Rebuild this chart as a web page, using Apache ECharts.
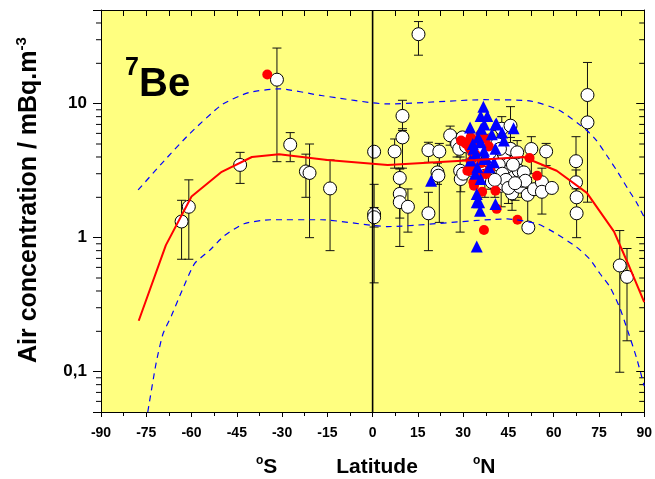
<!DOCTYPE html>
<html>
<head>
<meta charset="utf-8">
<script src="https://cdn.jsdelivr.net/npm/echarts@6/dist/echarts.min.js"></script>
<style>
  html, body { margin: 0; padding: 0; background: #fff; }
  #chart { width: 655px; height: 479px; }
</style>
</head>
<body>
<div id="chart"></div>
<script>
// open circles: latitude, concentration, error bar low / high (null = no bar)
var circLat = [-63.3, -60.9, -43.9, -31.7, -27.3, -22.1, -20.9, -14.1, 0.5, 0.5, 0.5,
  7.3, 9.9, 9.9, 9.0, 9.0, 9.0, 11.7, 15.2, 18.5, 18.5, 21.5, 21.8, 22.1, 25.7, 28.0,
  28.7, 29.0, 29.2, 30.0, 31.0, 33.0, 35.5, 36.0, 37.2, 38.0, 38.5, 39.1, 39.5, 40.2,
  40.8, 41.3, 41.3, 42.0, 42.4, 42.6, 42.8, 43.5, 43.5, 44.0, 44.8, 45.7, 45.7, 45.7,
  46.2, 46.8, 47.5, 47.9, 48.4, 48.7, 49.5, 50.1, 50.6, 51.4, 51.6, 52.6, 53.5, 56.1,
  56.1, 57.5, 59.4, 67.4, 67.4, 67.6, 67.6, 71.2, 71.2, 81.9, 84.3,
  39.5, 41.8, 43.0, 44.2, 45.0, 46.5, 47.2, 40.5, 38.8, 42.2, 29.8];
var circVal = [1.32, 1.70, 3.49, 15.1, 4.94, 3.12, 3.04, 2.33, 4.38, 1.50, 1.42,
  4.4, 8.1, 5.6, 2.79, 2.12, 1.84, 1.70, 33, 4.5, 1.52, 3.07, 2.9, 4.4, 5.8, 5.0,
  4.6, 3.16, 2.74, 3.0, 4.8, 3.2, 3.4, 4.6, 2.9, 3.76, 5.3, 2.98, 2.6, 3.76,
  3.3, 5.0, 2.98, 4.0, 3.16, 2.44, 6.5, 4.2, 2.51, 2.9, 3.5, 6.85, 4.6, 3.25,
  2.14, 2.82, 3.8, 4.33, 3.16, 2.4, 2.66, 3.07, 2.66, 2.09, 1.19, 4.59, 2.3, 2.59,
  2.2, 4.4, 2.35, 3.72, 2.59, 2.0, 1.52, 11.6, 7.25, 0.62, 0.51,
  3.9, 3.5, 3.0, 2.7, 2.35, 3.5, 2.55, 2.7, 4.3, 4.6, 5.6];
var circLo = [0.69, 0.69, 2.54, 3.69, 3.69, 2.0, 1.0, 0.80, 4.28, 0.46, 1.2,
  3.3, 6.3, 3.3, 1.9, 0.86, 1.4, 1.1, 23, 3.65, 0.80, 2.5, null, 1.3, 4.9, 4.0,
  null, 1.1, 2.2, null, 3.8, null, null, 3.7, 2.0, null, null, 2.3, null, 3.0,
  null, 4.0, 2.3, null, null, 1.7, 5.2, null, null, null, 2.5, 5.0, 3.6, 2.4,
  1.6, null, null, 3.5, null, null, 2.0, null, null, 1.13, 1.1, 3.0, null, 1.5,
  null, 3.45, null, 2.31, 2.0, 1.0, null, null, 1.84, 0.099, 0.17,
  3.1, 2.7, 2.3, null, 1.8, null, 1.9, 2.0, null, 3.6, null];
var circHi = [1.9, 2.7, 4.33, 26, 6.08, 4.2, 5.0, 3.8, 4.48, 2.5, 1.68,
  5.45, 10.6, 6.5, 3.3, 3.25, 2.3, 2.31, 41, 5.15, 2.18, 3.6, null, 5.05, 6.8, 6.0,
  null, 4.0, 3.3, null, 6.0, null, null, 5.7, 3.6, null, null, 3.7, null, 4.6,
  null, 6.3, 3.8, null, null, 3.2, 8.0, null, null, null, 4.5, 9.5, 5.6, 4.1,
  2.7, null, null, 5.3, null, null, 3.3, null, null, 2.8, 1.28, 5.67, null, 3.3,
  null, 5.05, null, 5.67, 3.2, 2.6, null, null, 20.3, 1.13, 0.83,
  4.8, 4.4, 3.9, null, 3.0, null, 3.3, 3.5, null, 5.6, null];

// red dots
var redLat = [-34.9, 29.3, 30.3, 31.4, 32.0, 32.0, 32.5, 32.5, 33.0, 33.4, 33.6, 34.0,
  35.3, 35.8, 36.0, 36.9, 37.5, 37.5, 38.5, 39.0, 40.7, 41.1, 48.0, 52.0, 54.5,
  31.0, 33.0, 34.2, 36.3];
var redVal = [16.5, 5.3, 5.15, 3.16, 4.7, 3.16, 5.6, 3.7, 4.3, 2.59, 2.44, 4.2,
  2.82, 5.9, 3.6, 1.14, 5.45, 2.98, 4.8, 3.3, 2.24, 1.64, 1.36, 3.93, 2.9,
  5.0, 3.4, 5.3, 2.2];

// blue triangles
var triLat = [19.4, 32.3, 32.5, 34.2, 34.5, 34.5, 34.5, 34.7, 35.3, 35.6, 35.8, 35.8,
  35.8, 36.7, 36.9, 36.9, 38.0, 38.6, 40.2, 40.7, 40.7, 40.7, 41.0, 42.9, 43.5, 46.7,
  33.2, 34.0, 36.0, 37.5, 33.5, 35.0, 39.5, 37.0];
var triVal = [2.66, 6.65, 3.76, 4.2, 2.12, 1.84, 0.86, 3.35, 1.84, 1.59, 8.1, 5.15,
  2.74, 9.5, 4.45, 3.87, 8.1, 3.35, 3.65, 7.0, 4.6, 1.78, 7.1, 6.1, 5.3, 6.55,
  5.0, 3.0, 6.5, 4.0, 4.6, 5.6, 5.9, 7.0];

// model: mean and upper / lower bounds
var meanLat = [-77.5, -68.5, -60, -50, -40, -31, -15, 5, 34, 50, 61, 71, 80, 84.5, 90];
var meanVal = [0.24, 0.88, 2.03, 3.1, 4.0, 4.2, 3.8, 3.48, 3.8, 4.0, 3.16, 2.16, 1.11, 0.65, 0.33];
var upLat = [-77.7, -69, -60.7, -50, -41, -31, -17, 5, 37, 52, 62, 71, 74.2, 78, 81.3, 84.6, 87.4, 90];
var upVal = [2.27, 3.76, 5.94, 9.8, 12.1, 12.9, 11.5, 9.95, 10.7, 10.5, 8.9, 6.3, 5.3, 3.98, 3.07, 2.31, 1.84, 1.42];
var lowLat = [-74.5, -71.7, -69.5, -66.7, -63.2, -59, -54.1, -49.2, -42.6, -33.8, -17, 5,
  44.6, 54.5, 60, 67.6, 72, 75.3, 78.6, 81.9, 84.6, 87.4, 90];
var lowVal = [0.05, 0.117, 0.19, 0.26, 0.40, 0.64, 0.80, 1.03, 1.27, 1.36, 1.36, 1.21,
  1.38, 1.27, 1.1, 0.85, 0.69, 0.54, 0.43, 0.30, 0.20, 0.128, 0.078];

var yMin = 0.05, yMax = 50;
var minorTicks = [0.06, 0.07, 0.08, 0.09, 0.2, 0.3, 0.4, 0.5, 0.6, 0.7, 0.8, 0.9,
  2, 3, 4, 5, 6, 7, 8, 9, 20, 30, 40];

function pairs(xs, ys) {
  return xs.map(function (x, i) { return [x, ys[i]]; });
}

var errData = [];
for (var i = 0; i < circLat.length; i++) {
  if (circLo[i] != null) errData.push([circLat[i], circLo[i], circHi[i]]);
}

var font = "'Liberation Sans', Arial, sans-serif";
var mychart = echarts.init(document.getElementById('chart'));

var option = {
  animation: false,
  grid: {
    left: 101, right: 7, top: 10, bottom: 67,
    show: true, backgroundColor: '#ffff80', borderWidth: 0
  },
  xAxis: [
    {
      type: 'value', min: -90, max: 90, interval: 15, position: 'bottom',
      axisLine: { show: true, onZero: false, lineStyle: { color: '#000', width: 1 } },
      axisTick: { show: true, inside: false, length: 5, lineStyle: { color: '#000' } },
      minorTick: { show: true, splitNumber: 2, length: 4, lineStyle: { color: '#000' } },
      axisLabel: { color: '#000', fontSize: 14, fontWeight: 'bold', fontFamily: font, margin: 14 },
      splitLine: { show: false }
    },
    {
      type: 'value', min: -90, max: 90, interval: 7.5, position: 'top',
      axisLine: { show: true, onZero: false, lineStyle: { color: '#000', width: 1 } },
      axisTick: { show: true, inside: true, length: 6, lineStyle: { color: '#000' } },
      axisLabel: { show: false },
      splitLine: { show: false }
    }
  ],
  yAxis: [
    {
      type: 'log', logBase: 10, min: yMin, max: yMax, position: 'left',
      axisLine: { show: true, onZero: false, lineStyle: { color: '#000', width: 1 } },
      axisTick: { show: true, inside: false, length: 8, lineStyle: { color: '#000' } },
      axisLabel: {
        color: '#000', fontSize: 17, fontWeight: 'bold', fontFamily: font, margin: 14,
        formatter: function (v) {
          var e = Math.log10(v);
          if (Math.abs(e - Math.round(e)) > 1e-6) return '';
          if (Math.abs(v - 0.1) < 1e-6) return '0,1';
          if (Math.abs(v - 1) < 1e-6) return '1';
          if (Math.abs(v - 10) < 1e-6) return '10';
          return '';
        }
      },
      splitLine: { show: false }
    },
    {
      type: 'log', logBase: 10, min: yMin, max: yMax, position: 'right',
      axisLine: { show: true, onZero: false, lineStyle: { color: '#000', width: 1 } },
      axisTick: { show: true, inside: true, length: 8, lineStyle: { color: '#000' } },
      axisLabel: { show: false },
      splitLine: { show: false }
    }
  ],
  graphic: [
    {
      type: 'text', left: 125, top: 56, z: 100,
      style: { text: '7', fontSize: 25, fontWeight: 'bold', fontFamily: font, fill: '#000' }
    },
    {
      type: 'text', left: 139, top: 65, z: 100,
      style: { text: 'Be', fontSize: 40, fontWeight: 'bold', fontFamily: font, fill: '#000' }
    },
    {
      type: 'text', x: 29, y: 363, rotation: Math.PI / 2, z: 100,
      style: {
        text: '{a|Air concentration / mBq.m}{s|-3}',
        align: 'left', verticalAlign: 'middle', fill: '#000',
        rich: {
          a: { fontSize: 25, fontWeight: 'bold', fontFamily: font, lineHeight: 30 },
          s: { fontSize: 15, fontWeight: 'bold', fontFamily: font, lineHeight: 30, verticalAlign: 'top' }
        }
      }
    },
    {
      type: 'text', x: 256, y: 467, z: 100,
      style: {
        text: '{s|o}{b|S}', align: 'left', verticalAlign: 'middle', fill: '#000',
        rich: {
          b: { fontSize: 21, fontWeight: 'bold', fontFamily: font, lineHeight: 24 },
          s: { fontSize: 12, fontWeight: 'bold', fontFamily: font, lineHeight: 24, verticalAlign: 'top' }
        }
      }
    },
    {
      type: 'text', x: 377, y: 467, z: 100,
      style: {
        text: 'Latitude', align: 'center', verticalAlign: 'middle', fill: '#000',
        fontSize: 21, fontWeight: 'bold', fontFamily: font
      }
    },
    {
      type: 'text', x: 473, y: 467, z: 100,
      style: {
        text: '{s|o}{b|N}', align: 'left', verticalAlign: 'middle', fill: '#000',
        rich: {
          b: { fontSize: 21, fontWeight: 'bold', fontFamily: font, lineHeight: 24 },
          s: { fontSize: 12, fontWeight: 'bold', fontFamily: font, lineHeight: 24, verticalAlign: 'top' }
        }
      }
    }
  ],
  series: [
    {
      // minor log ticks on left (outside) and right (inside)
      type: 'custom', name: 'minorTicks', silent: true, clip: false,
      data: minorTicks.map(function (v) { return [0, v]; }),
      encode: { x: 0, y: 1 },
      renderItem: function (params, api) {
        var v = api.value(1);
        var l = api.coord([-90, v]);
        var r = api.coord([90, v]);
        var st = { stroke: '#000', lineWidth: 1 };
        return {
          type: 'group', children: [
            { type: 'line', shape: { x1: l[0] - 5, y1: l[1], x2: l[0], y2: l[1] }, style: st },
            { type: 'line', shape: { x1: r[0] - 5, y1: r[1], x2: r[0], y2: r[1] }, style: st }
          ]
        };
      }
    },
    {
      type: 'line', name: 'equator', silent: true, symbol: 'none',
      data: [[0, yMin], [0, yMax]],
      lineStyle: { color: '#000', width: 1.6 }
    },
    {
      type: 'custom', name: 'errors', silent: true,
      data: errData,
      encode: { x: 0, y: [1, 2] },
      renderItem: function (params, api) {
        var x = api.value(0);
        var a = api.coord([x, api.value(1)]);
        var b = api.coord([x, api.value(2)]);
        var st = { stroke: '#111', lineWidth: 1 };
        return {
          type: 'group', children: [
            { type: 'line', shape: { x1: a[0], y1: a[1], x2: b[0], y2: b[1] }, style: st },
            { type: 'line', shape: { x1: a[0] - 4.5, y1: a[1], x2: a[0] + 4.5, y2: a[1] }, style: st },
            { type: 'line', shape: { x1: b[0] - 4.5, y1: b[1], x2: b[0] + 4.5, y2: b[1] }, style: st }
          ]
        };
      }
    },
    {
      type: 'scatter', name: 'stations', symbol: 'circle', symbolSize: 13,
      data: pairs(circLat, circVal),
      itemStyle: { color: '#fff', borderColor: '#000', borderWidth: 1, opacity: 1 }
    },
    {
      type: 'scatter', name: 'red', symbol: 'circle', symbolSize: 10,
      data: pairs(redLat, redVal),
      itemStyle: { color: '#ff0000', opacity: 1 }
    },
    {
      type: 'scatter', name: 'blue', symbol: 'triangle', symbolSize: 12,
      data: pairs(triLat, triVal),
      itemStyle: { color: '#0000ff', opacity: 1 }
    },
    {
      type: 'line', name: 'mean', symbol: 'none',
      data: pairs(meanLat, meanVal),
      lineStyle: { color: '#ff0000', width: 2 }
    },
    {
      type: 'line', name: 'upper', symbol: 'none', smooth: 0.2,
      data: pairs(upLat, upVal),
      lineStyle: { color: '#0000ff', width: 1.2, type: [6, 5] }
    },
    {
      type: 'line', name: 'lower', symbol: 'none', smooth: 0.2,
      data: pairs(lowLat, lowVal),
      lineStyle: { color: '#0000ff', width: 1.2, type: [6, 5] }
    }
  ]
};
mychart.setOption(option);
</script>
</body>
</html>
